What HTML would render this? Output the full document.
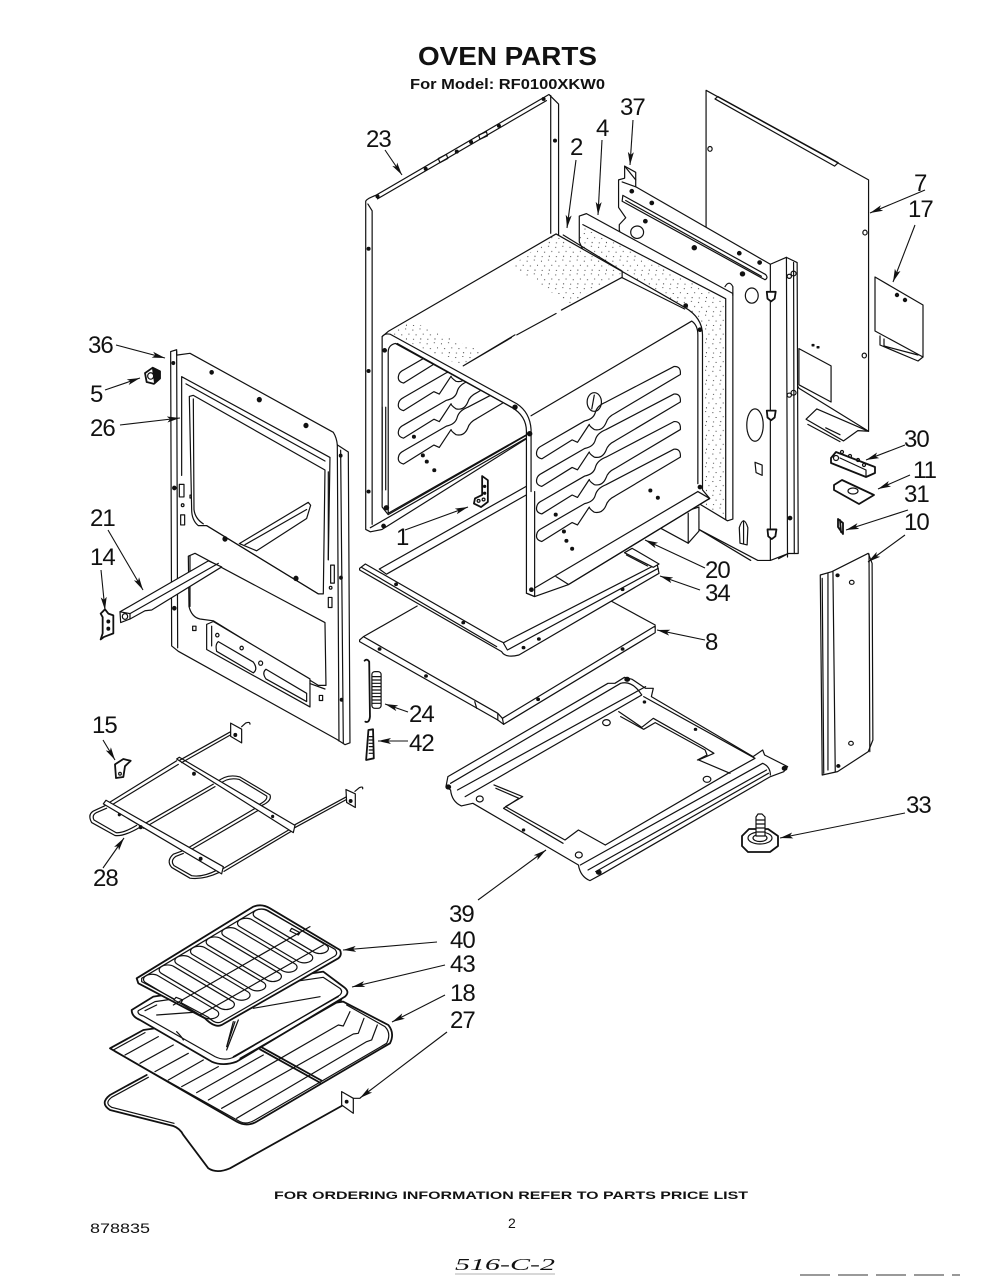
<!DOCTYPE html>
<html><head><meta charset="utf-8"><style>
html,body{margin:0;padding:0;background:#fff}
svg{display:block}
.l path,.l rect,.l ellipse,.l circle,.l line,.l polygon,.l polyline,#sr{vector-effect:non-scaling-stroke;stroke:#111;stroke-width:1.2;fill:none;stroke-linejoin:round;stroke-linecap:round}
.l .w{fill:#fff}
.l .k{fill:#111}
.l .h{stroke-width:1.8}
.l .s{stroke:none;fill:url(#dots)}
text.n{font:24px "Liberation Sans",sans-serif;letter-spacing:-1px;fill:#111}
.a line{stroke:#111;stroke-width:1.1;marker-end:url(#ar)}
</style></head><body>
<svg width="1000" height="1276" viewBox="0 0 1000 1276" xmlns="http://www.w3.org/2000/svg">
<defs>
<marker id="ar" markerUnits="userSpaceOnUse" markerWidth="14" markerHeight="8" refX="13" refY="4" orient="auto"><path d="M0 1 L13 4 L0 7 L3 4Z" fill="#111"/></marker>
<pattern id="dots" width="40" height="40" patternUnits="userSpaceOnUse"><circle cx="4" cy="6" r="1.5" fill="#111"/><circle cx="24" cy="3" r="1.4" fill="#111"/><circle cx="13" cy="20" r="1.5" fill="#111"/><circle cx="33" cy="18" r="1.4" fill="#111"/><circle cx="6" cy="33" r="1.4" fill="#111"/><circle cx="26" cy="32" r="1.5" fill="#111"/></pattern>
<path id="sr" d="M565 1062L685 990Q710 985 715 965Q720 945 745 935L935 832Q955 830 953 855L770 968Q750 978 745 995Q735 1020 712 1015Q698 1005 698 1000L665 1052L650 1045L565 1100Q545 1095 552 1075Q555 1067 565 1062Z"/>
<clipPath id="inner"><polygon points="130,775 160,768 480,952 510,1010 135,1250"/></clipPath>
</defs>

<!-- Group A : upper assembly -->
<g class="l" transform="translate(340 80) scale(.35714 .34439)">
<!-- panel 7 -->
<path class="w" d="M1025 30L1480 290L1480 1020L1285 895L1025 430Z"/>
<path d="M1050 55L1058 48L1395 240L1385 250Z"/>
<ellipse cx="1036" cy="200" rx="6" ry="7"/><ellipse cx="1470" cy="443" rx="6" ry="7"/><ellipse cx="1468" cy="800" rx="6" ry="7"/>
<path class="w" d="M1285 780L1375 830L1375 935L1285 885Z"/>
<path class="w" d="M1305 985L1335 955L1480 1020L1450 1018L1410 1048Z"/><path d="M1310 1000L1400 1050M1360 1010L1400 1030"/>
<path class="k" d="M1322 768h5v4h-5zM1336 774h5v4h-5z"/>
<!-- plate 37 -->
<path class="w" d="M780 290L797 285L797 250L828 268L828 310L1205 535L1250 515L1280 530L1283 1375L1255 1375L1205 1395L1170 1395L1005 1305L1005 1280L782 435L782 420L800 400L780 370Z"/>
<path d="M797 250L828 290M790 296L828 310M1205 535L1205 1395M1250 515L1253 1385M1270 530L1272 1375"/>
<path d="M792 335L1192 565Q1200 575 1190 580L790 352Z"/>
<path d="M800 350L1180 570"/>
<circle cx="832" cy="442" r="18"/><ellipse cx="1153" cy="626" rx="18" ry="22"/><ellipse cx="1162" cy="1002" rx="23" ry="47"/>
<path d="M1162 1110L1182 1118L1182 1148L1165 1140Z"/>
<path d="M1118 1300Q1130 1260 1142 1300L1140 1350L1120 1345Z"/><path d="M1130 1280L1130 1345"/>
<g><circle class="k" cx="817" cy="323" r="5"/><circle class="k" cx="873" cy="357" r="5"/><circle class="k" cx="855" cy="410" r="5"/><circle class="k" cx="992" cy="487" r="6"/><circle class="k" cx="1118" cy="503" r="5"/><circle class="k" cx="1175" cy="530" r="5"/><circle class="k" cx="1127" cy="563" r="6"/><circle class="k" cx="1260" cy="1272" r="5"/></g>
<path class="w h" d="M1195 615h25l-3 20l-10 8l-10-8z"/><path class="w h" d="M1195 960h25l-3 20l-10 8l-10-8z"/><path class="w h" d="M1197 1305h25l-3 20l-10 8l-10-8z"/>
<circle cx="1270" cy="562" r="7"/><circle cx="1258" cy="570" r="6"/><circle cx="1270" cy="908" r="7"/><circle cx="1258" cy="915" r="6"/>
<path d="M1005 1305L1150 1395M1228 1390L1255 1375"/>
<!-- panel 4 -->
<path class="w" d="M670 395L690 388L1100 620L1100 1275L1085 1280L1005 1230L670 470Z"/>
<path d="M680 420L1080 635L1080 1275"/>
<polygon class="s" points="672,420 1078,640 1078,1272 1015,1235 1015,720 790,560 672,480"/>
<path d="M1078 600Q1090 580 1100 600L1100 625"/>
<!-- frame 23 -->
<path class="w" d="M72 1305L72 352Q75 345 100 335L585 42L612 70L612 450L540 1030L118 1305L85 1312Z"/>
<path d="M90 380L78 360M90 380L90 1290M105 345L578 60M590 45L590 445M85 1300L530 1035"/>
<g><circle class="k" cx="80" cy="490" r="4"/><circle class="k" cx="80" cy="845" r="4"/><circle class="k" cx="80" cy="1195" r="4"/><circle class="k" cx="122" cy="1295" r="5"/><circle class="k" cx="602" cy="176" r="4"/><circle class="k" cx="240" cy="258" r="4"/><circle class="k" cx="327" cy="208" r="4"/><circle class="k" cx="367" cy="180" r="4"/><circle class="k" cx="445" cy="133" r="4"/><circle class="k" cx="105" cy="338" r="4"/><circle class="k" cx="570" cy="55" r="4"/></g>
<path d="M275 228L298 216L302 228L280 240ZM388 160L410 150L413 162L392 172Z"/>
<!-- box under parts -->
<path class="w" d="M1005 1240L1005 1310L975 1345L895 1300L975 1250Z"/><path d="M975 1258L975 1345"/>
<path class="w" d="M110 1420L530 1175L530 1200L130 1435Z"/>
<!-- box -->
<path class="w" d="M605 447L790 556L965 660Q1015 690 1015 740L1015 1190L1035 1215L640 1465L545 1500L522 1490L522 1032L135 1262L118 1240L118 745L135 730Z"/>
<path class="w" d="M135 790Q135 770 155 765L480 950Q522 975 522 1020L522 1030L135 1258Z"/>
<path d="M625 450L790 555L790 572M790 574L965 665"/>
<path d="M790 573L620 668M605 678L495 740M480 748L345 830M345 830L490 740"/>
<path d="M535 975L985 700Q1002 712 1002 740L1002 1172"/>
<path d="M118 745Q125 735 140 738L495 940Q532 965 535 1015L535 1195"/>
<path d="M160 765L480 950"/>
<path d="M545 1195L545 1470L545 1500L522 1490M545 1475L1002 1195M1002 1195L1035 1215L640 1465L605 1442"/>
<polygon class="s" points="135,735 200,700 400,790 340,830"/>
<polygon class="s" points="600,450 790,560 640,650 480,540"/>
<g><use href="#sr"/><use href="#sr" y="80"/><use href="#sr" y="160"/><use href="#sr" y="240"/></g>
<ellipse cx="712" cy="935" rx="20" ry="27"/><path d="M712 915L705 955"/>
<!-- inner left louvers -->
<g clip-path="url(#inner)"><use href="#sr" transform="translate(-387 -220)"/><use href="#sr" transform="translate(-387 -140)"/><use href="#sr" transform="translate(-387 -60)"/><use href="#sr" transform="translate(-387 15)"/></g>
<path d="M118 950L118 1190M128 950L128 1190"/>
<g><circle class="k" cx="207" cy="1036" r="4"/><circle class="k" cx="232" cy="1090" r="4"/><circle class="k" cx="243" cy="1108" r="4"/><circle class="k" cx="264" cy="1133" r="4"/><circle class="k" cx="869" cy="1192" r="4"/><circle class="k" cx="890" cy="1213" r="4"/><circle class="k" cx="604" cy="1262" r="4"/><circle class="k" cx="627" cy="1311" r="4"/><circle class="k" cx="634" cy="1338" r="4"/><circle class="k" cx="650" cy="1361" r="4"/><circle class="k" cx="536" cy="1480" r="5"/><circle class="k" cx="531" cy="1027" r="6"/><circle class="k" cx="490" cy="950" r="6"/><circle class="k" cx="125" cy="785" r="5"/><circle class="k" cx="130" cy="1242" r="6"/><circle class="k" cx="968" cy="655" r="5"/><circle class="k" cx="1008" cy="725" r="5"/><circle class="k" cx="1008" cy="1182" r="5"/></g>
<!-- bracket 1 -->
<path class="w h" d="M398 1150L414 1162L414 1225L395 1240L375 1230L378 1215L398 1205Z"/><circle cx="405" cy="1180" r="3" class="k"/><circle cx="405" cy="1200" r="3" class="k"/><circle cx="388" cy="1222" r="4"/><circle cx="402" cy="1218" r="4"/>
</g>

<!-- panel 17 + small right parts (page coordinates) -->
<g class="l">
<path class="w" d="M875 277L923 305L923 357L875 331Z"/><path d="M880 336L880 345L918 361L923 357M884 339L884 346L918 355"/><circle class="k" cx="897" cy="295" r="1.6"/><circle class="k" cx="905" cy="300" r="1.6"/>
<path class="w h" d="M831 458L836 452L875 467L875 473L866 477L831 463Z"/><path d="M840 458L866 470L866 477"/><circle cx="836" cy="458" r="2.5"/><circle cx="842" cy="452" r="1.5"/><circle cx="850" cy="456" r="1.5"/><circle cx="858" cy="460" r="1.5"/><circle cx="864" cy="465" r="1.5"/>
<path class="w h" d="M834 485L842 480L874 495L859 504L834 490Z"/><ellipse cx="853" cy="491" rx="5" ry="3"/>
<path class="h" d="M838 519L838 527L843 534L843 523ZM840 520L841 532"/>
<!-- 33 foot -->
<path class="w h" d="M742 836L749 829L768 829L778 836L778 846L770 852L748 852L742 846Z"/><ellipse cx="760" cy="838" rx="12" ry="6"/><ellipse cx="760" cy="838" rx="7" ry="3.5"/><path class="w" d="M756 817L758 814L762 814L765 817L765 836L756 836Z"/><path d="M756 820L765 820M756 824L765 824M756 828L765 828M756 832L765 832"/>
</g>

<!-- Group B : door, heater -->
<g class="l" transform="translate(80 330) scale(.3333 .359)">
<path class="w" d="M272 60L290 55L290 70L330 65L760 285Q770 300 772 320L805 340L810 1150L795 1155L770 1140L295 895L275 880Z"/>
<path d="M290 60L293 885M772 320L777 1145M782 335L790 1150"/>
<path d="M305 130L750 355L745 640M305 130L305 405M318 150L735 365"/>
<g><circle class="k" cx="280" cy="92" r="4"/><circle class="k" cx="395" cy="118" r="5"/><circle class="k" cx="538" cy="194" r="6"/><circle class="k" cx="678" cy="266" r="6"/><circle class="k" cx="283" cy="440" r="5"/><circle class="k" cx="283" cy="775" r="5"/><circle class="k" cx="783" cy="690" r="4"/><circle class="k" cx="785" cy="1030" r="4"/><circle class="k" cx="782" cy="350" r="4"/></g>
<path d="M298 430h14v35h-14zM302 515h12v28h-12zM752 655h11v50h-11zM745 745h11v28h-11zM335 282h6v10h-6zM330 460h6v8h-6z"/><circle cx="308" cy="488" r="4"/><circle cx="752" cy="718" r="4"/>
<!-- windows -->
<path class="w" d="M328 185L340 182L735 390L730 735L715 735L380 545L355 545Q335 530 335 500Z"/>
<path d="M340 192L342 500Q345 525 370 540M745 395L745 640"/>
<path class="w" d="M325 630L345 622L735 815L738 990L715 990L400 810L360 805Q335 800 327 770Z"/>
<circle class="k" cx="435" cy="582" r="6"/><circle class="k" cx="648" cy="692" r="6"/>
<path d="M330 630L330 770"/>
<!-- rail back, visible through window -->
<path class="w" d="M478 595L685 480L692 488L680 525L530 615Z"/><path d="M495 598L680 500"/>
<path d="M380 545L715 735"/>
<path class="w" d="M380 820L400 812L690 972L690 1050L380 890Z"/><path d="M395 825L395 880"/>
<path d="M415 868L520 925Q535 945 520 955L410 895Q405 875 415 868Z"/><path d="M558 945L680 1012L680 1035L558 972Q545 955 558 945Z"/>
<path d="M690 985L735 1000"/>
<path d="M338 825h10v12h-10zM718 1018h10v14h-10z"/><circle cx="412" cy="850" r="5"/><circle cx="485" cy="886" r="5"/><circle cx="542" cy="928" r="6"/>
<!-- rail front -->
<path class="w" d="M120 785L385 643L425 660L215 780L195 782L150 805L122 815Z"/><path d="M150 790L415 650M120 785L150 790L150 805"/><circle cx="135" cy="798" r="8"/>
<!-- clip 14 -->
<path class="w h" d="M62 790L75 778L85 790L100 795L100 845L72 855L62 862L68 845L68 800Z"/><circle class="k" cx="85" cy="812" r="4"/><circle class="k" cx="85" cy="832" r="4"/>
<!-- clip 15 -->
<path class="w h" d="M105 1210L130 1195L152 1200L135 1215L130 1245L108 1248Z"/><circle cx="120" cy="1236" r="4"/>
<!-- nut 5 -->
<path class="w h" d="M195 120L218 105L240 115L240 135L222 150L200 145Z"/><circle cx="212" cy="128" r="9"/><path class="k" d="M218 108L240 116L240 134L224 148Z"/>
<!-- heater 28 -->
<path d="M75 1325L40 1340Q22 1350 35 1372L105 1408Q130 1412 180 1385M80 1332L48 1345Q35 1352 42 1365L108 1400Q128 1403 170 1380"/>
<path d="M410 1260Q440 1235 480 1245L570 1295Q578 1315 530 1330M420 1265Q442 1245 478 1252L560 1298Q565 1310 530 1325"/>
<path d="M310 1450L280 1460Q258 1478 275 1497L330 1527Q370 1532 420 1510M310 1458L288 1466Q270 1478 282 1492L335 1520Q368 1525 410 1505"/>
<path d="M85 1318L290 1200M92 1325L295 1210M185 1380L400 1265M190 1388L405 1272M320 1445L530 1330M325 1452L535 1338M430 1500L640 1385M432 1508L640 1393"/>
<path class="w" d="M70 1320L78 1310L430 1495L425 1515Z"/><path class="w" d="M290 1195L298 1190L645 1380L640 1400Z"/>
<circle class="k" cx="118" cy="1350" r="3"/><circle class="k" cx="182" cy="1385" r="4"/><circle class="k" cx="362" cy="1473" r="4"/><circle class="k" cx="342" cy="1236" r="4"/><circle class="k" cx="578" cy="1355" r="3"/>
<path d="M300 1198L450 1120M305 1205L455 1126M645 1378L800 1300M645 1386L803 1306"/>
<path class="w" d="M452 1095L485 1112L485 1150L452 1132Z"/><path d="M485 1105L497 1095Q510 1090 510 1098"/><circle class="k" cx="466" cy="1128" r="4"/>
<path class="w" d="M798 1280L826 1292L826 1330L800 1316Z"/><path d="M825 1285L838 1275Q850 1270 848 1278"/><circle class="k" cx="812" cy="1312" r="4"/>
</g>

<!-- Group D : shelves -->
<g class="l" transform="translate(350 540) scale(.3839 .3333)">
<!-- 8 -->
<path d="M35 290L175 198M680 183L795 255"/>
<path class="w" d="M25 300L35 290L385 520L397 535L795 258L795 278L400 553L385 540L25 305Z"/>
<path d="M385 522L385 540M397 535L400 553"/>
<circle class="k" cx="77" cy="327" r="3.5"/><circle class="k" cx="198" cy="408" r="3.5"/><circle class="k" cx="490" cy="478" r="3.5"/><circle class="k" cx="710" cy="327" r="3.5"/><path d="M325 485L330 505"/>
<!-- 34 -->
<path class="w" d="M25 85L40 72L385 300L400 308L800 72L805 100L440 345Q405 355 395 335L25 90Z"/>
<path d="M30 82L382 320M400 310L410 330L803 85M720 45L775 78"/>
<path class="w" d="M715 38L735 25L805 72L790 82Z"/>
<circle class="k" cx="120" cy="133" r="3.5"/><circle class="k" cx="295" cy="248" r="3.5"/><circle class="k" cx="452" cy="323" r="3.5"/><circle class="k" cx="492" cy="297" r="3.5"/><circle class="k" cx="710" cy="148" r="3.5"/>
<!-- 39 -->
<path class="w" d="M255 710L672 430L690 430L715 412L735 418L770 445L790 445L785 470L1050 650L1075 630L1080 645L1140 680L1130 695L1095 710L660 1000L625 1022Q600 1010 595 975L320 790L290 798Q265 785 262 750L250 740Z"/>
<path d="M262 730L705 430Q735 420 760 465L300 770M280 750L770 440"/>
<path d="M600 975L1075 670Q1095 680 1095 705M620 990L1085 690M640 995L1090 700"/>
<path d="M700 515L760 562L790 535L920 620L948 640L908 660L990 700M375 735L450 770L405 800L560 900L595 870L665 915"/>
<path d="M705 530L765 568L795 548L925 630L930 645L905 660M380 745L440 775L400 805L555 910"/>
<path d="M765 470L1055 655L985 700L665 915"/>
<ellipse cx="668" cy="548" rx="10" ry="9"/><ellipse cx="930" cy="718" rx="10" ry="9"/><ellipse cx="596" cy="945" rx="9" ry="9"/><ellipse cx="338" cy="777" rx="9" ry="9"/>
<circle class="k" cx="722" cy="418" r="6"/><circle class="k" cx="1132" cy="685" r="6"/><circle class="k" cx="256" cy="741" r="6"/><circle class="k" cx="648" cy="997" r="6"/><circle class="k" cx="900" cy="568" r="3"/><circle class="k" cx="452" cy="870" r="3"/><circle class="k" cx="767" cy="486" r="3"/>
<!-- 10 -->
<path class="w" d="M1225 105L1255 95L1350 40L1360 70L1362 600L1350 635L1270 695L1230 705Z"/>
<path d="M1245 100L1245 690M1258 95L1264 695M1352 42L1354 635M1230 115L1234 700"/>
<circle class="k" cx="1270" cy="106" r="4"/><circle cx="1307" cy="127" r="6"/><circle cx="1305" cy="610" r="6"/><circle class="k" cx="1272" cy="678" r="4"/>
<!-- spring 24 -->
<path class="h" d="M38 362Q45 355 50 365L52 530Q50 550 40 545"/>
<rect x="57" y="395" width="24" height="110" rx="8" class="w"/><path d="M58 410h22M58 420h22M58 430h22M58 440h22M58 450h22M58 460h22M58 470h22M58 480h22M58 490h22" />
<!-- 42 -->
<path class="w h" d="M48 570L60 568L62 655L42 660Z"/><path d="M50 590h10M50 600h10M50 610h10M50 620h10M50 630h10M50 640h10"/>
</g>

<!-- Group C : racks -->
<g class="l" transform="translate(90 890) scale(.3333)">
<!-- heater 27 -->
<path class="h" d="M170 555L60 615Q28 640 60 660L250 708Q270 715 280 735L355 835Q380 852 420 835L760 645"/>
<path d="M175 562L65 622Q42 640 65 652L252 700"/>
<path class="w" d="M755 605L790 625L790 670L755 645Z"/><path d="M790 625L810 625"/><circle class="k" cx="770" cy="635" r="4"/>
<!-- 18 rack -->
<path class="w h" d="M60 475L160 420L760 335L895 405Q915 430 900 460L500 695Q470 712 440 695Z"/>
<path d="M70 480L165 428M75 485L450 695Q470 705 495 690L890 460Q905 430 885 410L770 345"/>
<path d="M105 495L205 440M150 520L250 465M195 545L295 490M235 570L340 510M275 590L385 530M320 608L520 495M355 630L745 405L760 408L780 365M395 655L790 432L805 430L822 385M440 685L830 455L845 450L862 405"/>
<path class="h" d="M510 478L690 578M515 472L695 572"/>
<!-- 43 pan -->
<path class="w h" d="M125 360L190 320L700 245L760 290Q782 305 765 320L440 515Q400 530 365 515L150 390Q125 380 125 360Z"/>
<path d="M145 362L195 335L700 262L750 295Q760 305 750 315L435 500Q405 515 375 500L160 378Q140 372 145 362Z"/>
<path d="M165 362L200 345M260 425Q275 440 280 450M200 375L340 365M490 355L690 320M445 390L410 480M430 395L410 470L435 395"/>
<path d="M430 500L745 320M450 505L755 330"/>
<!-- 40 -->
<path class="w h" d="M140 265L490 50Q515 40 540 55L750 180Q757 195 745 205L395 405Q375 415 345 385L145 280Z"/>
<path d="M155 265L495 62Q515 52 535 64L735 178Q745 190 735 198L395 395Q378 405 355 382L155 275Z"/>
<g>
<rect width="245" height="42" rx="21" ry="21" transform="matrix(.86 .51 .86 -.51 150 268)"/>
<rect width="245" height="42" rx="21" ry="21" transform="matrix(.86 .51 .86 -.51 197 240)"/>
<rect width="245" height="42" rx="21" ry="21" transform="matrix(.86 .51 .86 -.51 244 212)"/>
<rect width="245" height="42" rx="21" ry="21" transform="matrix(.86 .51 .86 -.51 291 184)"/>
<rect width="245" height="42" rx="21" ry="21" transform="matrix(.86 .51 .86 -.51 338 156)"/>
<rect width="245" height="42" rx="21" ry="21" transform="matrix(.86 .51 .86 -.51 385 128)"/>
<rect width="245" height="42" rx="21" ry="21" transform="matrix(.86 .51 .86 -.51 432 100)"/>
<rect width="245" height="42" rx="21" ry="21" transform="matrix(.86 .51 .86 -.51 479 72)"/>
</g>
<path class="w" d="M258 322L278 330L272 340L252 330ZM605 115L630 128L625 135L600 123Z"/>
<path d="M250 345L660 110M330 375L700 165"/>
</g>

<!-- leaders -->
<g class="a">
<line x1="385" y1="150" x2="402" y2="175"/>
<line x1="576" y1="160" x2="567" y2="228"/>
<line x1="602" y1="140" x2="598" y2="215"/>
<line x1="633" y1="120" x2="630" y2="165"/>
<line x1="925" y1="190" x2="870" y2="213"/>
<line x1="915" y1="225" x2="893" y2="282"/>
<line x1="116" y1="345" x2="165" y2="358"/>
<line x1="105" y1="390" x2="140" y2="378"/>
<line x1="120" y1="425" x2="180" y2="418"/>
<line x1="108" y1="530" x2="143" y2="590"/>
<line x1="101" y1="570" x2="105" y2="610"/>
<line x1="405" y1="530" x2="468" y2="507"/>
<line x1="905" y1="445" x2="866" y2="460"/>
<line x1="910" y1="475" x2="878" y2="489"/>
<line x1="908" y1="510" x2="846" y2="530"/>
<line x1="905" y1="535" x2="868" y2="562"/>
<line x1="705" y1="568" x2="645" y2="540"/>
<line x1="700" y1="590" x2="660" y2="576"/>
<line x1="705" y1="640" x2="657" y2="630"/>
<line x1="408" y1="712" x2="385" y2="704"/>
<line x1="408" y1="741" x2="378" y2="741"/>
<line x1="103" y1="740" x2="115" y2="760"/>
<line x1="103" y1="868" x2="124" y2="838"/>
<line x1="905" y1="813" x2="780" y2="838"/>
<line x1="478" y1="900" x2="546" y2="850"/>
<line x1="437" y1="942" x2="343" y2="950"/>
<line x1="445" y1="965" x2="352" y2="987"/>
<line x1="445" y1="995" x2="392" y2="1022"/>
<line x1="447" y1="1032" x2="360" y2="1098"/>
</g>

<!-- labels -->
<text class="n" x="366" y="147">23</text><text class="n" x="570" y="155">2</text><text class="n" x="596" y="136">4</text><text class="n" x="620" y="115">37</text>
<text class="n" x="914" y="191">7</text><text class="n" x="908" y="217">17</text><text class="n" x="88" y="353">36</text><text class="n" x="90" y="402">5</text>
<text class="n" x="90" y="436">26</text><text class="n" x="90" y="526">21</text><text class="n" x="90" y="565">14</text><text class="n" x="396" y="545">1</text>
<text class="n" x="904" y="447">30</text><text class="n" x="913" y="478">11</text><text class="n" x="904" y="502">31</text><text class="n" x="904" y="530">10</text>
<text class="n" x="705" y="578">20</text><text class="n" x="705" y="601">34</text><text class="n" x="705" y="650">8</text><text class="n" x="409" y="722">24</text>
<text class="n" x="409" y="751">42</text><text class="n" x="92" y="733">15</text><text class="n" x="93" y="886">28</text><text class="n" x="906" y="813">33</text>
<text class="n" x="449" y="922">39</text><text class="n" x="450" y="948">40</text><text class="n" x="450" y="972">43</text><text class="n" x="450" y="1001">18</text><text class="n" x="450" y="1028">27</text>

<text x="418" y="65" font-family="Liberation Sans,sans-serif" font-size="26" font-weight="bold" fill="#111" textLength="179" lengthAdjust="spacingAndGlyphs">OVEN PARTS</text>
<text x="410" y="89" font-family="Liberation Sans,sans-serif" font-size="15" font-weight="bold" fill="#111" textLength="195" lengthAdjust="spacingAndGlyphs">For Model: RF0100XKW0</text>
<text x="274" y="1199" font-family="Liberation Sans,sans-serif" font-size="11" font-weight="bold" fill="#111" textLength="474" lengthAdjust="spacingAndGlyphs">FOR ORDERING INFORMATION REFER TO PARTS PRICE LIST</text>
<text x="90" y="1233" font-family="Liberation Sans,sans-serif" font-size="14" fill="#111" textLength="60" lengthAdjust="spacingAndGlyphs">878835</text>
<text x="508" y="1228" font-family="Liberation Sans,sans-serif" font-size="14" fill="#111">2</text>
<text x="455" y="1270" font-family="Liberation Serif,serif" font-size="17" font-style="italic" fill="#111" textLength="100" lengthAdjust="spacingAndGlyphs">516-C-2</text>
<path d="M455 1274H555" stroke="#666" stroke-width=".6" fill="none"/>
<path d="M800 1275H960" stroke="#333" stroke-width="1" stroke-dasharray="30 8" fill="none"/>
</svg>
</body></html>
